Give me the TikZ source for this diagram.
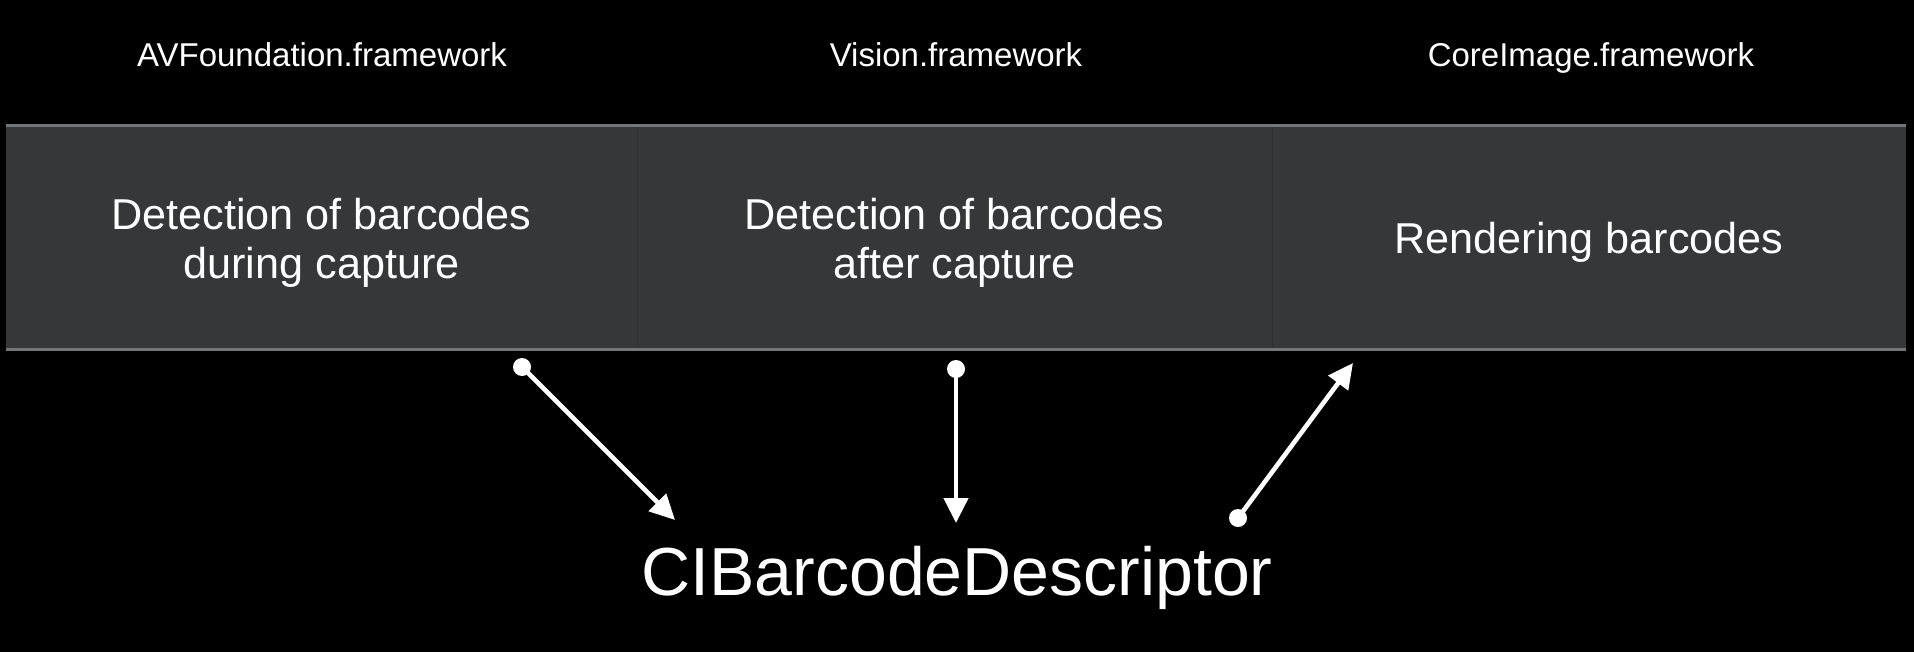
\documentclass[tikz,border=0pt]{standalone}
\usepackage{fontspec}
\setmainfont{Liberation Sans}
\usetikzlibrary{arrows.meta}
\definecolor{cellfill}{HTML}{363739}
\definecolor{rulegray}{HTML}{72767A}
\definecolor{divgray}{HTML}{2E2F31}
\tikzset{
  cell/.style={fill=cellfill, inner sep=0pt, minimum height=111.5pt},
  celltext/.style={text=white, align=center, inner sep=0pt,
    font=\fontsize{21.6}{24.5}\selectfont},
  head/.style={text=white, inner sep=0pt, anchor=base, font=\fontsize{16.5}{19}\selectfont},
  desc/.style={text=white, inner sep=0pt, anchor=base, font=\fontsize{34}{40}\selectfont},
  conn/.style={white, line width=2.3pt, -{Triangle[length=12.5pt,width=12pt]}},
  dot/.style={white},
}
\begin{document}
\begin{tikzpicture}[x=0.5pt,y=-0.5pt]
\fill[black] (0,0) rectangle (1914,652);
\useasboundingbox (0,0) rectangle (1914,652);
% headers
\node[head] (h1) at (322,67) {AVFoundation.framework};
\node[head] (h2) at (956,67) {Vision.framework};
\node[head] (h3) at (1591,67) {CoreImage.framework};
% cells
\node[cell, minimum width=315.5pt] (c1) at (321.5,237.5) {};
\node[cell, minimum width=317.5pt] (c2) at (954.5,237.5) {};
\node[cell, minimum width=317pt] (c3) at (1589,237.5) {};
\node[celltext] (t1) at ([yshift=-2.5pt]c1.center) {Detection of barcodes\\during capture};
\node[celltext] (t2) at ([yshift=-2.5pt]c2.center) {Detection of barcodes\\after capture};
\node[celltext, anchor=base] (t3) at ([yshift=-8pt]c3.center) {Rendering barcodes};
\draw[divgray, line width=0.8pt] (c1.north east) -- (c1.south east);
\draw[divgray, line width=0.8pt] (c2.north east) -- (c2.south east);
\draw[rulegray, line width=1.3pt] (c1.north west) -- (c3.north east);
\draw[rulegray, line width=1.3pt] (c1.south west) -- (c3.south east);
% descriptor
\node[desc] (d) at (957,595) {CIBarcodeDescriptor};
% connectors
\coordinate (s1) at (522,367);
\coordinate (e1) at (675,520);
\coordinate (s2) at (956,369);
\coordinate (e2) at (956,523);
\coordinate (s3) at (1238,518);
\coordinate (e3) at (1353,363);
\draw[conn] (s1) -- (e1);
\draw[conn] (s2) -- (e2);
\draw[conn] (s3) -- (e3);
\fill[dot] (s1) circle[radius=4.5pt];
\fill[dot] (s2) circle[radius=4.5pt];
\fill[dot] (s3) circle[radius=4.5pt];
\end{tikzpicture}
\end{document}
